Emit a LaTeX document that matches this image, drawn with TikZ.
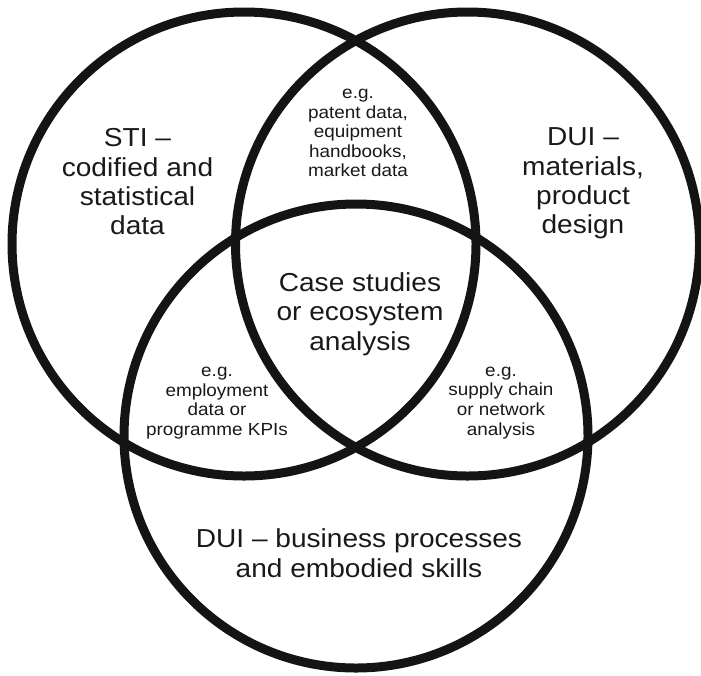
\documentclass[tikz,border=0pt]{standalone}
\usepackage{fontspec}
\setmainfont{Liberation Sans}[FakeStretch=1.08]
\begin{document}
\begin{tikzpicture}[x=1pt, y=-1pt,
  ring/.style={draw=black!92, line width=9pt, circle, minimum size=464pt, inner sep=0pt},
  biglabel/.style={align=center, font=\fontsize{26}{29.3}\selectfont, text=black!90, inner sep=0pt},
  smalllabel/.style={align=center, font=\fontsize{17.5}{19.6}\selectfont, text=black!90, inner sep=0pt}]
\useasboundingbox (0,0) rectangle (701,675);

% the three overlapping knowledge domains
\node[ring] (sti)  at (244,244) {};
\node[ring] (duim) at (467.5,244) {};
\node[ring] (duib) at (356,436) {};

% labels of the single domains
\node[biglabel] (stiText)  at (137.5,181.7) {STI –\\codified and\\statistical\\data};
\node[biglabel] (duimText) at (583,183.5) {DUI –\\materials,\\product\\design};
\node[biglabel] (duibText) at (359,553.2) {DUI – business processes\\and embodied skills};

% labels of the overlaps
\node[biglabel]   (core)    at (360,314)   {Case studies\\or ecosystem\\analysis};
\node[smalllabel] (topOver) at (358,133)   {e.g.\\patent data,\\equipment\\handbooks,\\market data};
\node[smalllabel] (leftOver) at (217,403)  {e.g.\\employment\\data or\\programme KPIs};
\node[smalllabel] (rightOver) at (501,402.7) {e.g.\\supply chain\\or network\\analysis};
\end{tikzpicture}
\end{document}
